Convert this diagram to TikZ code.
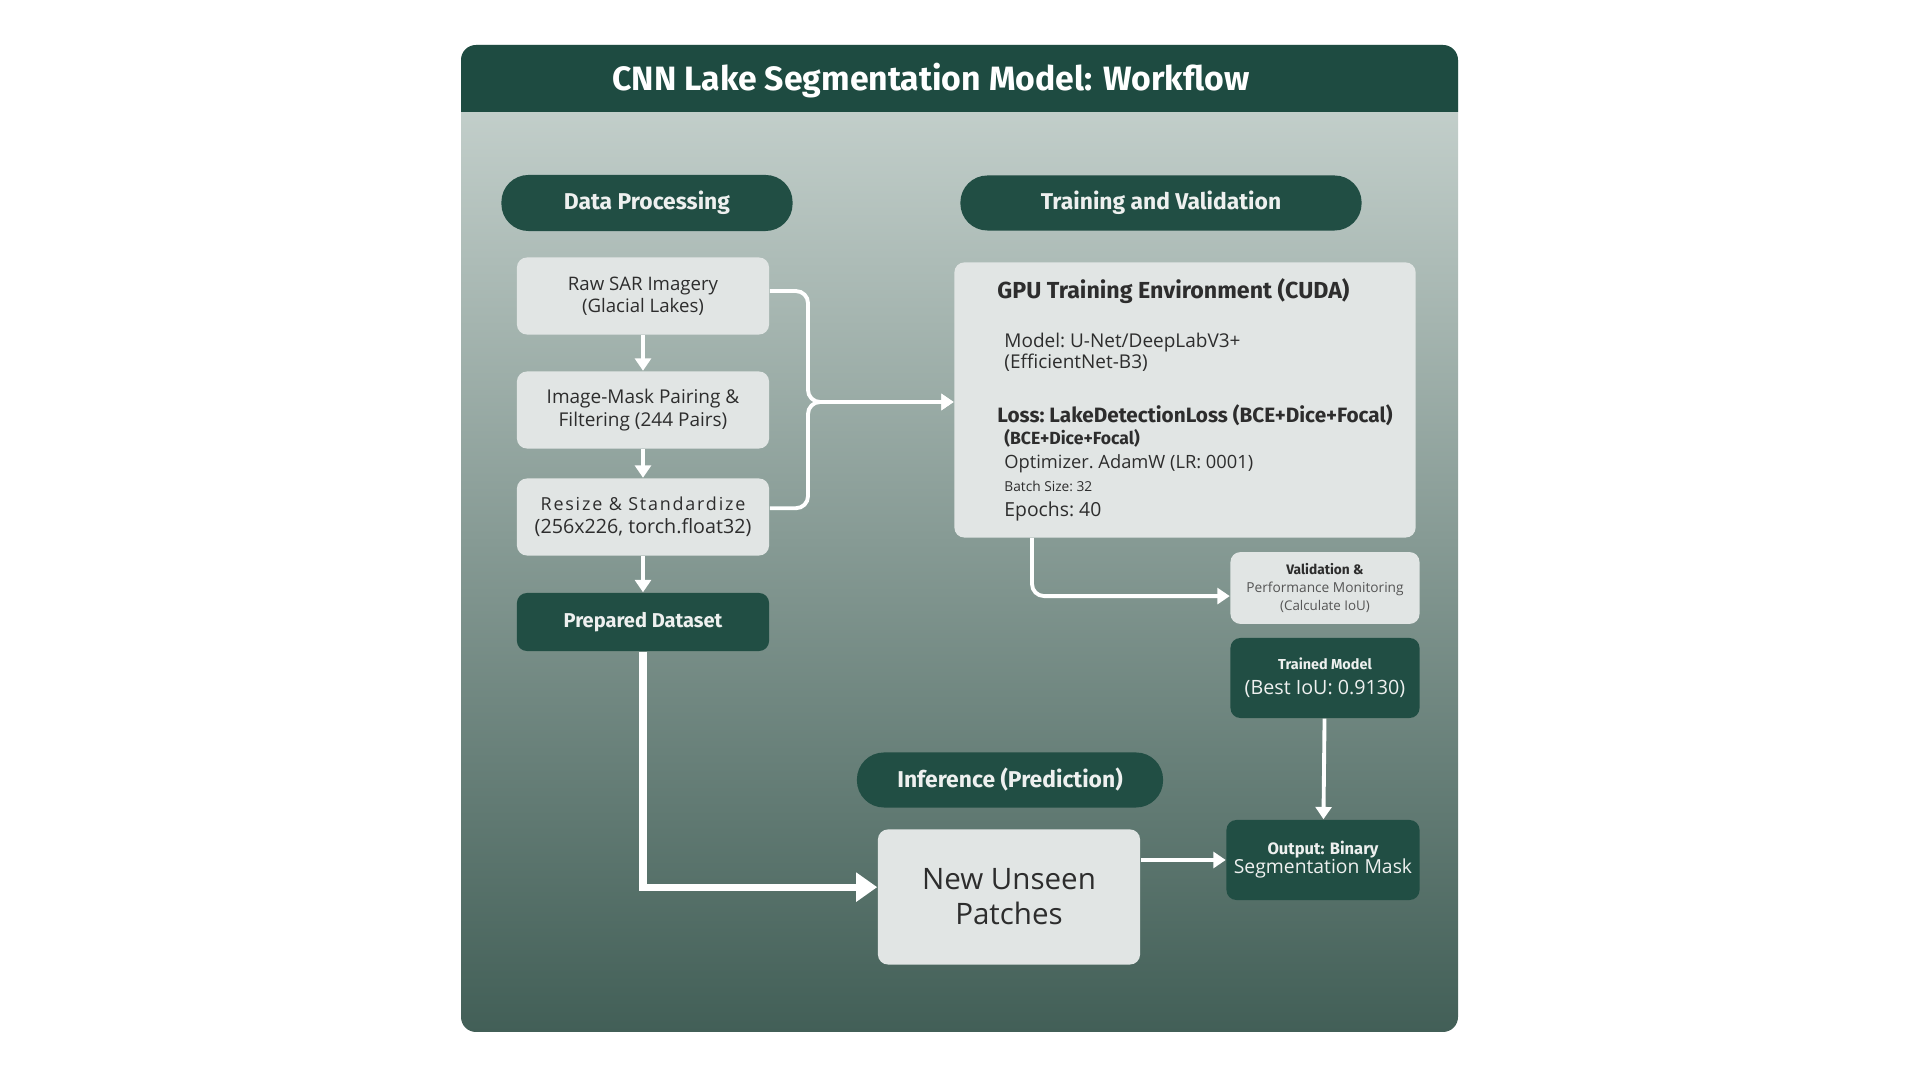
\documentclass[tikz,border=0pt]{standalone}
\usepackage{fontspec}
\setmainfont{Open Sans}
\newfontfamily\headfont{Fira Sans}
\usetikzlibrary{arrows.meta}
\definecolor{headgreen}{RGB}{30,75,65}
\definecolor{pillgreen}{RGB}{33,78,68}
\definecolor{boxgray}{RGB}{225,229,228}
\definecolor{paneltop}{RGB}{203,214,210}
\definecolor{panelbot}{RGB}{66,95,87}
\definecolor{inktext}{RGB}{45,45,45}
\definecolor{subtext}{RGB}{85,85,85}
\definecolor{paletext}{RGB}{238,240,239}
\tikzset{
	pill/.style={fill=pillgreen, rounded corners=0.27cm, text=paletext, font=\headfont\bfseries\fontsize{6.5}{7.5}\selectfont},
	lightbox/.style={fill=boxgray, rounded corners=0.1cm, text=inktext, align=center, minimum width=2.52cm},
	darkbox/.style={fill=pillgreen, rounded corners=0.1cm, text=paletext, align=center},
	flow/.style={draw=white, line width=1.1pt, -{Triangle[width=4.5pt,length=3.5pt]}},
}

\begin{document}
\begin{tikzpicture}[x=0.01cm, y=-0.01cm]
	\useasboundingbox[fill=white] (0, 0) rectangle (1920, 1080);
	\shade[top color=paneltop, bottom color=panelbot, rounded corners=0.15cm] (461, 45) rectangle (1458, 1032);
	\fill[headgreen] (461, 112) [rounded corners=0.15cm] -- (461, 45) -- (1458, 45) [sharp corners] -- (1458, 112) -- cycle;
	\node[text=white, font=\headfont\bfseries\fontsize{9.6}{11}\selectfont] (Title) at (931, 81) {CNN Lake Segmentation Model: Workflow};
	\node[pill, minimum width=2.91cm, minimum height=0.56cm] (DataHead) at (647, 203) {Data Processing};
	\node[pill, minimum width=4.01cm, minimum height=0.55cm] (TrainHead) at (1161, 203) {Training and Validation};
	\node[pill, minimum width=3.06cm, minimum height=0.55cm] (InferHead) at (1010, 780) {Inference (Prediction)};
	\node[lightbox, minimum height=0.77cm, font=\fontsize{5.3}{6.3}\selectfont] (Raw) at (643, 296) {Raw SAR Imagery\\(Glacial Lakes)};
	\node[lightbox, minimum height=0.77cm, font=\fontsize{5.4}{6.4}\selectfont] (ImgMask) at (643, 410) {Image-Mask Pairing \&\\Filtering (244 Pairs)};
	\node[lightbox, minimum height=0.77cm, font=\fontsize{5.1}{6.5}\selectfont] (Resize) at (643, 517) {{\addfontfeatures{LetterSpace=10}Resize \& Standardize}\\{\fontsize{5.6}{6.5}\selectfont(256x226, torch.float32)}};
	\node[darkbox, minimum width=2.52cm, minimum height=0.58cm, font=\headfont\bfseries\fontsize{5.7}{6.5}\selectfont] (Prepared) at (643, 622) {Prepared Dataset};
	\node[lightbox, minimum width=4.61cm, minimum height=2.75cm, text width=3.75cm, align=left, inner xsep=0.43cm, font=\fontsize{5}{6}\selectfont] (GPU) at (1185, 400) {%
		\spaceskip=0pt \xspaceskip=0pt \frenchspacing
		\headfont\bfseries\fontsize{6.6}{7}\selectfont\mbox{GPU Training Environment (CUDA)}\par
		\normalfont\fontsize{5.4}{13.9}\selectfont\mbox{\hspace*{2pt}Model: U-Net/DeepLabV3+}\par
		\fontsize{5.4}{6}\selectfont\mbox{\hspace*{2pt}(EfficientNet-B3)}\par
		\headfont\bfseries\fontsize{5.9}{15.4}\selectfont\mbox{Loss: LakeDetectionLoss (BCE+Dice+Focal)}\par
		\fontsize{5}{6.3}\selectfont\mbox{\hspace*{2pt}(BCE+Dice+Focal)}\par
		\normalfont\fontsize{5.2}{6.8}\selectfont\mbox{\hspace*{2pt}Optimizer. AdamW (LR: 0001)}\par
		\fontsize{3.9}{6.5}\selectfont\mbox{\hspace*{2pt}Batch Size: 32}\par
		\fontsize{5.5}{7.1}\selectfont\mbox{\hspace*{2pt}Epochs: 40}\par};
	\node[lightbox, minimum width=1.89cm, minimum height=0.7cm, font=\fontsize{3.9}{5}\selectfont] (Val) at (1325, 588) {{\headfont\bfseries Validation \&}\\{\color{subtext}Performance Monitoring}\\{\color{subtext}\fontsize{3.8}{5}\selectfont(Calculate IoU)}};
	\node[darkbox, minimum width=1.89cm, minimum height=0.8cm, font=\fontsize{5.6}{7}\selectfont] (Trained) at (1325, 678) {{\headfont\bfseries\fontsize{4.1}{7}\selectfont Trained Model}\\(Best IoU: 0.9130)};
	\node[darkbox, minimum width=1.93cm, minimum height=0.8cm, inner xsep=2pt, font=\fontsize{5.5}{5.4}\selectfont] (Output) at (1323, 860) {{\headfont\bfseries\fontsize{4.7}{5.4}\selectfont Output: Binary}\\Segmentation Mask};
	\node[lightbox, minimum width=2.62cm, minimum height=1.35cm, font=\fontsize{8.4}{10}\selectfont] (New) at (1009, 897) {New Unseen\\Patches};
	\coordinate (Join) at (808, 402);
	\coordinate (GpuOut) at (1032, 538);
	\draw[flow] (Raw) -- (ImgMask);
	\draw[flow] (ImgMask) -- (Resize);
	\draw[flow] (Resize) -- (Prepared);
	\draw[flow, rounded corners=0.12cm] ([yshift=1.4pt]Raw.east) -| (Join) -- (GPU.west |- Join);
	\draw[flow, rounded corners=0.12cm] ([yshift=2.5pt]Resize.east) -| (Join) -- (GPU.west |- Join);
	\draw[flow, rounded corners=0.12cm] (GpuOut) |- ([yshift=-2.3pt]Val.west);
	\draw[flow] (Trained) -- (Output);
	\draw[flow, line width=2pt, -{Triangle[width=8pt,length=6pt]}] (Prepared.south) |- ([yshift=2.8pt]New.west);
	\draw[flow] (New.east |- Output.west) -- (Output.west);
\end{tikzpicture}
\end{document}
